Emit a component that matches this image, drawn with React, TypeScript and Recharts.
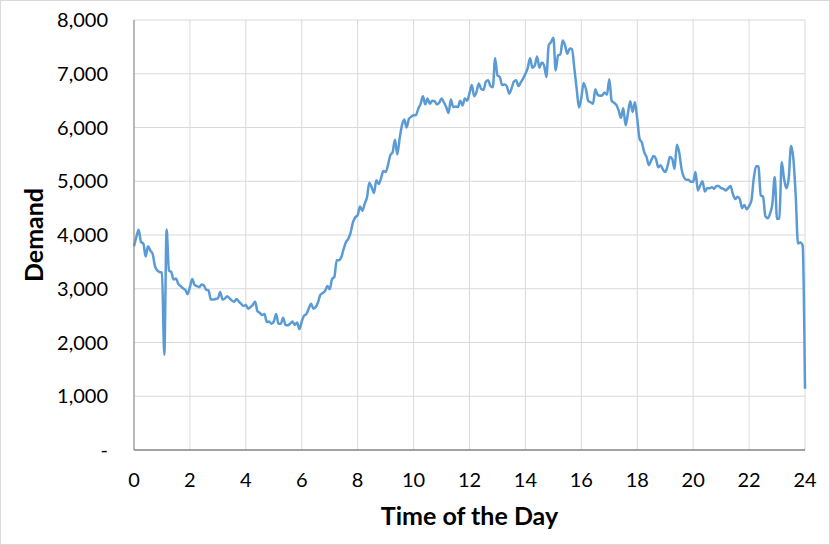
import React from 'react';
import { LineChart, Line, XAxis, YAxis, CartesianGrid } from 'recharts';

// demand readings every 5 minutes, split into 4-hour blocks
const demand00to04 = [
  3790, 3960, 4100, 3870, 3840, 3600, 3790, 3710, 3650, 3420, 3340, 3310,
  3300, 1770, 4100, 3340, 3310, 3170, 3190, 3090, 3050, 3010, 2980, 2900,
  3030, 3180, 3070, 3050, 3030, 3080, 3060, 2980, 2970, 2800, 2800, 2810,
  2820, 2940, 2800, 2820, 2860, 2820, 2780, 2760, 2810, 2760, 2720, 2680,
];
const demand04to08 = [
  2700, 2630, 2660, 2700, 2760, 2580, 2550, 2510, 2530, 2380, 2390, 2350,
  2390, 2530, 2350, 2350, 2460, 2330, 2320, 2350, 2390, 2330, 2370, 2250,
  2390, 2500, 2530, 2630, 2720, 2630, 2660, 2750, 2890, 2920, 2960, 3050,
  2990, 3180, 3220, 3530, 3530, 3590, 3740, 3870, 3930, 4050, 4240, 4330,
];
const demand08to12 = [
  4370, 4530, 4450, 4580, 4700, 4970, 4890, 4780, 5020, 4950, 5050, 5190,
  5170, 5300, 5480, 5540, 5770, 5500, 5790, 6040, 6150, 6000, 6160, 6200,
  6230, 6230, 6350, 6440, 6580, 6430, 6540, 6440, 6500, 6490, 6430, 6460,
  6540, 6470, 6380, 6270, 6520, 6380, 6390, 6380, 6500, 6410, 6540, 6500,
];
const demand12to16 = [
  6640, 6790, 6580, 6660, 6820, 6720, 6700, 6850, 6880, 6770, 6750, 7290,
  6970, 6940, 6790, 6800, 6770, 6630, 6720, 6850, 6880, 6770, 6840, 6910,
  7000, 7110, 7290, 7110, 7150, 7320, 7110, 7210, 7160, 6940, 7530, 7590,
  7670, 7060, 7340, 7360, 7620, 7530, 7370, 7470, 7460, 7100, 6720, 6370,
];
const demand16to20 = [
  6550, 6830, 6710, 6490, 6470, 6440, 6710, 6610, 6590, 6600, 6650, 6610,
  6900, 6500, 6460, 6420, 6320, 6180, 6360, 6040, 6260, 6490, 6290, 6470,
  6160, 5790, 5720, 5540, 5450, 5300, 5390, 5470, 5420, 5260, 5300, 5220,
  5170, 5280, 5450, 5420, 5230, 5680, 5540, 5230, 5080, 5030, 5030, 4990,
];
const demand20to24 = [
  4990, 5170, 4830, 4920, 5000, 4810, 4870, 4870, 4890, 4860, 4910, 4910,
  4870, 4860, 4830, 4870, 4910, 4770, 4670, 4710, 4670, 4500, 4560, 4480,
  4540, 4640, 5050, 5280, 5280, 4740, 4710, 4350, 4310, 4400, 4580, 5080,
  4300, 4310, 5360, 5050, 4870, 5050, 5660, 5420, 4740, 3840, 3860, 3800,
  1140,
];

const hourTicks = [0, 2, 4, 6, 8, 10, 12, 14, 16, 18, 20, 22, 24];
const demandTicks = [0, 1000, 2000, 3000, 4000, 5000, 6000, 7000, 8000];

const readings = [
  ...demand00to04,
  ...demand04to08,
  ...demand08to12,
  ...demand12to16,
  ...demand16to20,
  ...demand20to24,
];
const data = readings.map((v, i) => ({ hour: i / 12, demand: v }));

const FONT = 'Lato, "Open Sans", sans-serif';

const YTitle = (props: any) => {
  const vb = props.viewBox || { y: 0, height: 0 };
  const cy = vb.y + vb.height / 2;
  return (
    <text
      x={33}
      y={cy}
      transform={`rotate(-90, 33, ${cy})`}
      textAnchor="middle"
      dominantBaseline="central"
      fontFamily={FONT}
      fontSize={25}
      fontWeight="bold"
      fill="#000"
    >
      Demand
    </text>
  );
};

const XTitle = (props: any) => {
  const vb = props.viewBox || { x: 0, width: 0, y: 0 };
  return (
    <text
      x={vb.x + vb.width / 2}
      y={525}
      textAnchor="middle"
      fontFamily={FONT}
      fontSize={25}
      fontWeight="bold"
      fill="#000"
    >
      Time of the Day
    </text>
  );
};

export default function App() {
  return (
    <div
      style={{
        position: 'absolute',
        left: 0,
        top: 0,
        width: 830,
        height: 545,
        border: '1px solid #d9d9d9',
        boxSizing: 'border-box',
        background: '#fff',
      }}
    >
      <LineChart
        width={828}
        height={543}
        data={data}
        margin={{ top: 20, right: 23, bottom: 53, left: 0 }}
        style={{ position: 'absolute', left: -1, top: -1 }}
      >
        <CartesianGrid stroke="#d9d9d9" strokeWidth={1} />
        <XAxis
          dataKey="hour"
          type="number"
          domain={[0, 24]}
          ticks={hourTicks}
          interval={0}
          height={40}
          tickLine={false}
          tickSize={0}
          tickMargin={23}
          axisLine={{ stroke: '#595959', strokeWidth: 1 }}
          tick={{ fill: '#000', fontSize: 20, fontFamily: FONT }}
          label={<XTitle />}
        />
        <YAxis
          type="number"
          domain={[0, 8000]}
          ticks={demandTicks}
          interval={0}
          width={134}
          tickLine={false}
          tickSize={0}
          tickMargin={26}
          axisLine={{ stroke: '#868686', strokeWidth: 1 }}
          tick={{ fill: '#000', fontSize: 20, fontFamily: FONT }}
          tickFormatter={(v: number) => (v === 0 ? '-' : v.toLocaleString('en-US'))}
          label={<YTitle />}
        />
        <Line
          type="monotone"
          dataKey="demand"
          stroke="#5b9bd5"
          strokeWidth={2.5}
          dot={false}
          isAnimationActive={false}
        />
      </LineChart>
    </div>
  );
}
